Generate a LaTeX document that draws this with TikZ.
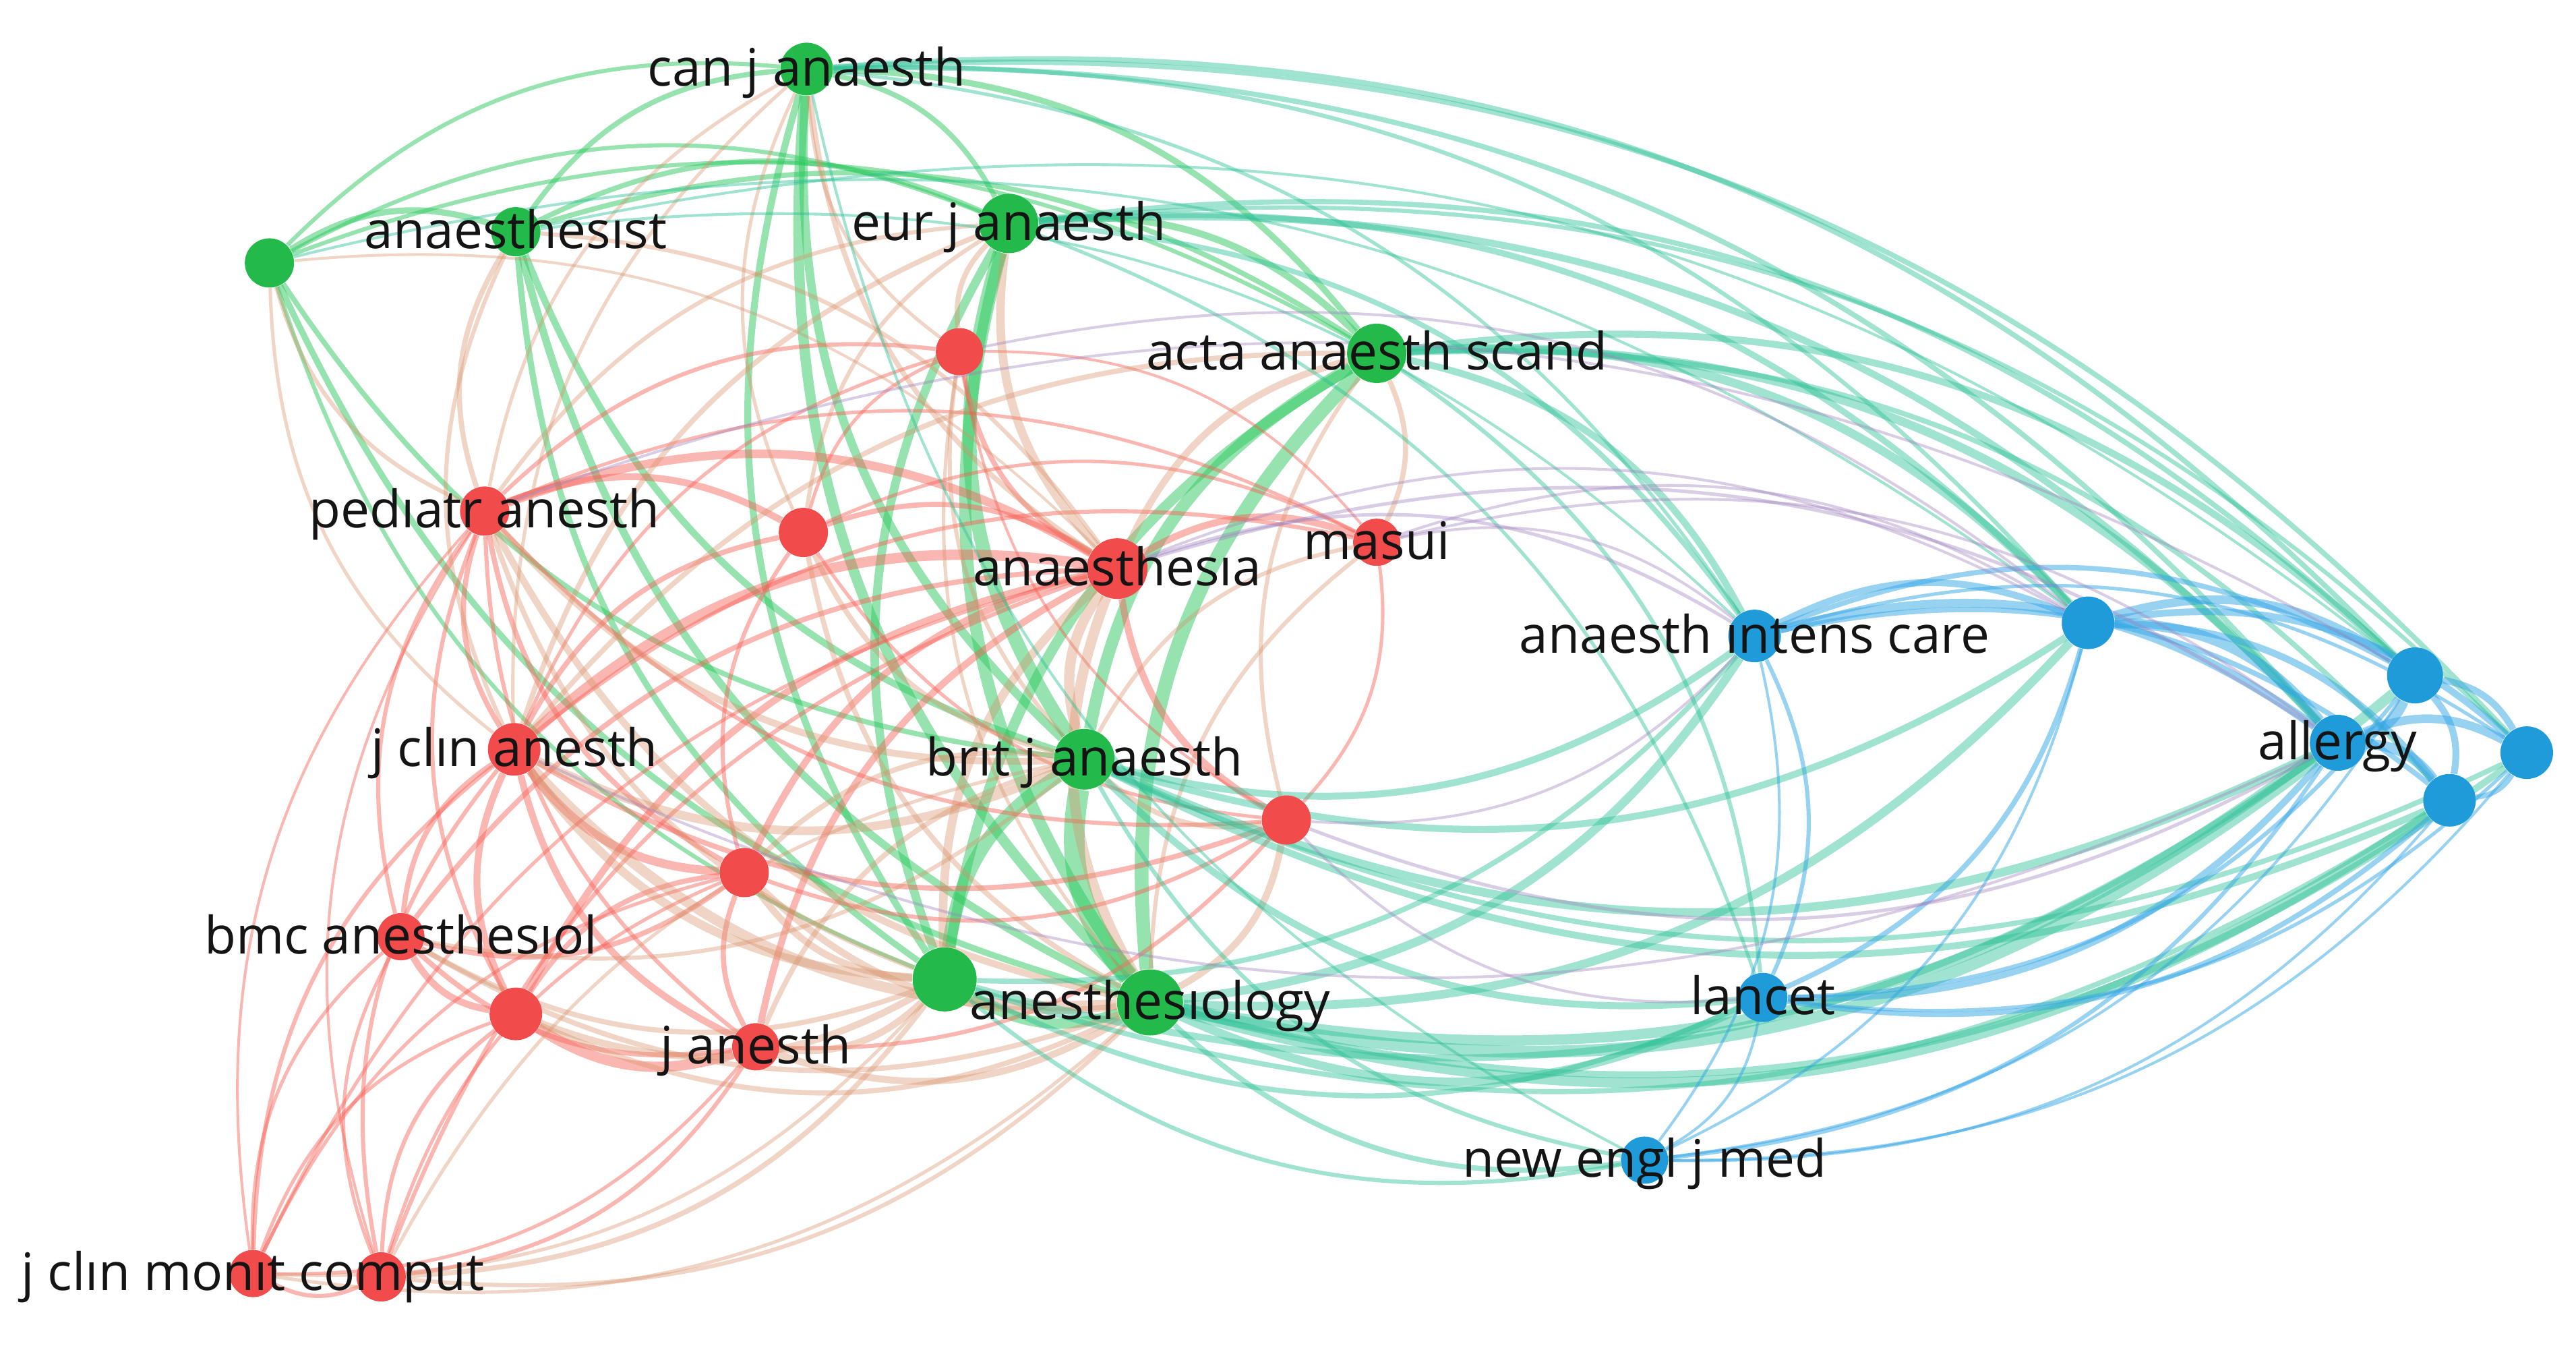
\documentclass[tikz,border=0pt]{standalone}
\usepackage{fontspec}
\setmainfont{Open Sans}
\pgfdeclarelayer{bg}
\pgfsetlayers{bg,main}
\definecolor{ngreen}{RGB}{35,185,75}
\definecolor{nred}{RGB}{242,75,75}
\definecolor{nblue}{RGB}{32,155,218}
\definecolor{egg}{RGB}{45,200,95}
\definecolor{err}{RGB}{245,95,85}
\definecolor{ebb}{RGB}{50,165,228}
\definecolor{erg}{RGB}{215,145,105}
\definecolor{egb}{RGB}{45,192,150}
\definecolor{erb}{RGB}{160,130,190}
\definecolor{labtxt}{RGB}{20,20,20}
\newcommand\ed[4]{%
  \pgfpointanchor{#1}{center}\pgfgetlastxy{\edax}{\eday}%
  \pgfpointanchor{#2}{center}\pgfgetlastxy{\edbx}{\edby}%
  \pgfpointanchor{ctr}{center}\pgfgetlastxy{\edcx}{\edcy}%
  \pgfmathsetmacro\edside{((\eday-\edby)/100)*(((\edax+\edbx)/2-\edcx)/100)+((\edbx-\edax)/100)*(((\eday+\edby)/2-\edcy)/100)}%
  \pgfmathsetmacro\edang{\edside>0 ? 25 : -25}%
  \pgfmathsetmacro\edw{#3*1.45}%
  \draw[#4,line width=\edw pt] (#1) to[bend left=\edang] (#2);%
}
\begin{document}
\begin{tikzpicture}[x=0.0243686cm,y=-0.0243686cm,
  nd/.style={circle,inner sep=0pt,draw=none},
  gn/.style={nd,fill=ngreen},
  rn/.style={nd,fill=nred},
  bn/.style={nd,fill=nblue},
  lab/.style={font=\fontsize{21.8}{26}\selectfont,text=labtxt,inner sep=0pt,text height=0.74em,text depth=0pt,anchor=center,yshift=-0.12cm},
  gg/.style={draw=egg,draw opacity=0.5},
  rr/.style={draw=err,draw opacity=0.45},
  bb/.style={draw=ebb,draw opacity=0.5},
  rg/.style={draw=erg,draw opacity=0.38},
  gb/.style={draw=egb,draw opacity=0.45},
  rb/.style={draw=erb,draw opacity=0.4}]
\useasboundingbox (0,0) rectangle (1568,820.3);
\coordinate (ctr) at (800,420);
% green
\node[gn,minimum size=0.78cm] (cja) at (491,42) {};
\node[gn,minimum size=0.73cm] (g1) at (164,160) {};
\node[gn,minimum size=0.73cm] (ast) at (314,141) {};
\node[gn,minimum size=0.88cm] (eja) at (614,136) {};
\node[gn,minimum size=0.88cm] (aas) at (838,215) {};
\node[gn,minimum size=0.90cm] (bja) at (660,462) {};
\node[gn,minimum size=0.98cm] (ansl) at (700,610) {};
\node[gn,minimum size=0.95cm] (g2) at (575,596) {};
% red
\node[rn,minimum size=0.70cm] (r1) at (584,214) {};
\node[rn,minimum size=0.73cm] (ped) at (295,311) {};
\node[rn,minimum size=0.73cm] (r2) at (489,324) {};
\node[rn,minimum size=0.90cm] (anst) at (680,346) {};
\node[rn,minimum size=0.70cm] (mas) at (838,330) {};
\node[rn,minimum size=0.78cm] (jca) at (313,456) {};
\node[rn,minimum size=0.73cm] (r3) at (783,499) {};
\node[rn,minimum size=0.73cm] (r4) at (453,531) {};
\node[rn,minimum size=0.70cm] (bmc) at (244,570) {};
\node[rn,minimum size=0.78cm] (r5) at (314,617) {};
\node[rn,minimum size=0.70cm] (jan) at (460,637) {};
\node[rn,minimum size=0.70cm] (jcm) at (154,775) {};
\node[rn,minimum size=0.73cm] (r6) at (232,777) {};
% blue
\node[bn,minimum size=0.78cm] (aic) at (1068,387) {};
\node[bn,minimum size=0.78cm] (b1) at (1271,379) {};
\node[bn,minimum size=0.83cm] (b2) at (1470,411) {};
\node[bn,minimum size=0.83cm] (all) at (1423,452) {};
\node[bn,minimum size=0.78cm] (b3) at (1538,458) {};
\node[bn,minimum size=0.78cm] (b4) at (1491,487) {};
\node[bn,minimum size=0.73cm] (lan) at (1073,607) {};
\node[bn,minimum size=0.70cm] (nej) at (1001,706) {};
\begin{pgfonlayer}{bg}
% green-green
\ed{cja}{g1}{1.2}{gg}\ed{cja}{ast}{1.5}{gg}\ed{cja}{eja}{1.5}{gg}\ed{cja}{aas}{1.8}{gg}
\ed{cja}{bja}{2.5}{gg}\ed{cja}{ansl}{3}{gg}\ed{cja}{g2}{2}{gg}
\ed{g1}{ast}{1.8}{gg}\ed{g1}{eja}{1.2}{gg}\ed{g1}{aas}{1.2}{gg}\ed{g1}{bja}{1.5}{gg}
\ed{g1}{ansl}{1.8}{gg}\ed{g1}{g2}{1.2}{gg}
\ed{ast}{eja}{1.5}{gg}\ed{ast}{aas}{1.5}{gg}\ed{ast}{bja}{2}{gg}\ed{ast}{ansl}{2.2}{gg}\ed{ast}{g2}{1.8}{gg}
\ed{eja}{aas}{2}{gg}\ed{eja}{bja}{4}{gg}\ed{eja}{ansl}{3.5}{gg}\ed{eja}{g2}{2.5}{gg}
\ed{aas}{bja}{3.5}{gg}\ed{aas}{ansl}{4}{gg}\ed{aas}{g2}{3}{gg}
\ed{bja}{ansl}{6}{gg}\ed{bja}{g2}{4}{gg}\ed{ansl}{g2}{3}{gg}
% red-red
\ed{anst}{r1}{1.5}{rr}\ed{anst}{ped}{2.5}{rr}\ed{anst}{r2}{1.5}{rr}\ed{anst}{mas}{2}{rr}
\ed{anst}{jca}{3}{rr}\ed{anst}{r3}{2}{rr}\ed{anst}{r4}{2}{rr}\ed{anst}{bmc}{1.5}{rr}
\ed{anst}{r5}{2}{rr}\ed{anst}{jan}{2}{rr}\ed{anst}{jcm}{1}{rr}\ed{anst}{r6}{1.2}{rr}
\ed{jca}{r1}{1}{rr}\ed{jca}{ped}{1.5}{rr}\ed{jca}{r2}{1.5}{rr}\ed{jca}{mas}{1.2}{rr}
\ed{jca}{r3}{1.5}{rr}\ed{jca}{r4}{2.5}{rr}\ed{jca}{bmc}{1.5}{rr}\ed{jca}{r5}{2}{rr}
\ed{jca}{jan}{2}{rr}\ed{jca}{jcm}{1.2}{rr}\ed{jca}{r6}{1.2}{rr}
\ed{ped}{r1}{1.2}{rr}\ed{ped}{r2}{2}{rr}\ed{ped}{mas}{1}{rr}\ed{ped}{r3}{1.2}{rr}
\ed{ped}{r4}{1.5}{rr}\ed{ped}{bmc}{1.2}{rr}\ed{ped}{r5}{1.2}{rr}\ed{ped}{jan}{1.2}{rr}
\ed{ped}{jcm}{0.8}{rr}\ed{ped}{r6}{0.8}{rr}
\ed{r4}{bmc}{1.5}{rr}\ed{r4}{r5}{1.5}{rr}\ed{r4}{jan}{1.5}{rr}\ed{r4}{jcm}{1}{rr}
\ed{r4}{r6}{1}{rr}\ed{r4}{r2}{1.2}{rr}\ed{r4}{r3}{1.2}{rr}
\ed{bmc}{r5}{2}{rr}\ed{bmc}{jan}{1.5}{rr}\ed{bmc}{jcm}{1}{rr}\ed{bmc}{r6}{1}{rr}
\ed{r5}{jan}{3}{rr}\ed{r5}{jcm}{1}{rr}\ed{r5}{r6}{1.2}{rr}
\ed{jan}{jcm}{1}{rr}\ed{jan}{r6}{1.2}{rr}\ed{jan}{r3}{1.2}{rr}\ed{jcm}{r6}{1.2}{rr}
\ed{r2}{r1}{1}{rr}\ed{r2}{r3}{1}{rr}\ed{r2}{mas}{1}{rr}\ed{r3}{mas}{1}{rr}
\ed{r1}{mas}{0.8}{rr}\ed{r1}{r3}{0.8}{rr}
% red-green
\ed{anst}{cja}{1.5}{rg}\ed{anst}{g1}{0.8}{rg}\ed{anst}{ast}{1.2}{rg}\ed{anst}{eja}{2.5}{rg}
\ed{anst}{aas}{2}{rg}\ed{anst}{bja}{3}{rg}\ed{anst}{ansl}{3}{rg}\ed{anst}{g2}{2.5}{rg}
\ed{jca}{cja}{1}{rg}\ed{jca}{ast}{1.2}{rg}\ed{jca}{eja}{1.5}{rg}\ed{jca}{aas}{1.5}{rg}
\ed{jca}{bja}{2.5}{rg}\ed{jca}{ansl}{3}{rg}\ed{jca}{g2}{2.5}{rg}\ed{jca}{g1}{1}{rg}
\ed{ped}{cja}{1}{rg}\ed{ped}{ast}{1.5}{rg}\ed{ped}{eja}{1.2}{rg}\ed{ped}{bja}{2}{rg}
\ed{ped}{ansl}{2}{rg}\ed{ped}{g1}{1.2}{rg}\ed{ped}{g2}{1.5}{rg}
\ed{r1}{eja}{1.5}{rg}\ed{r1}{bja}{1.2}{rg}\ed{r1}{cja}{1}{rg}\ed{r1}{ansl}{1}{rg}
\ed{r2}{bja}{1.5}{rg}\ed{r2}{ansl}{1.5}{rg}\ed{r2}{eja}{1.2}{rg}\ed{r2}{cja}{1}{rg}
\ed{r3}{bja}{1.5}{rg}\ed{r3}{ansl}{2}{rg}\ed{r3}{aas}{1.2}{rg}
\ed{r4}{bja}{1.5}{rg}\ed{r4}{ansl}{2}{rg}\ed{r4}{g2}{2}{rg}
\ed{bmc}{ansl}{1.5}{rg}\ed{bmc}{g2}{1.5}{rg}\ed{bmc}{bja}{1.2}{rg}
\ed{r5}{ansl}{1.5}{rg}\ed{r5}{g2}{2}{rg}
\ed{jan}{ansl}{2}{rg}\ed{jan}{g2}{2}{rg}\ed{jan}{bja}{1.5}{rg}
\ed{jcm}{ansl}{1}{rg}\ed{jcm}{g2}{1}{rg}
\ed{r6}{ansl}{1.2}{rg}\ed{r6}{g2}{1.5}{rg}\ed{r6}{bja}{1}{rg}
\ed{mas}{aas}{1.5}{rg}\ed{mas}{bja}{1.2}{rg}\ed{mas}{ansl}{1.2}{rg}
% green-blue
\ed{aic}{cja}{1}{gb}\ed{aic}{eja}{1.5}{gb}\ed{aic}{aas}{2}{gb}\ed{aic}{bja}{2}{gb}
\ed{aic}{ansl}{2.5}{gb}\ed{aic}{g2}{1.5}{gb}\ed{aic}{ast}{0.8}{gb}
\ed{all}{cja}{1.5}{gb}\ed{all}{eja}{2}{gb}\ed{all}{aas}{2.5}{gb}\ed{all}{bja}{2.5}{gb}
\ed{all}{ansl}{3.5}{gb}\ed{all}{g2}{2}{gb}
\ed{b1}{cja}{1.2}{gb}\ed{b1}{eja}{1.8}{gb}\ed{b1}{aas}{2.5}{gb}\ed{b1}{bja}{2}{gb}
\ed{b1}{ansl}{2.5}{gb}\ed{b1}{g1}{0.8}{gb}
\ed{b2}{cja}{1.5}{gb}\ed{b2}{eja}{1.5}{gb}\ed{b2}{aas}{2}{gb}\ed{b2}{ansl}{3}{gb}\ed{b2}{ast}{0.8}{gb}
\ed{b3}{cja}{1.5}{gb}\ed{b3}{eja}{1.2}{gb}\ed{b3}{ansl}{2}{gb}\ed{b3}{bja}{1.5}{gb}
\ed{b4}{ansl}{3}{gb}\ed{b4}{bja}{2}{gb}\ed{b4}{g2}{1.5}{gb}\ed{b4}{aas}{1.5}{gb}
\ed{lan}{ansl}{2.5}{gb}\ed{lan}{bja}{2}{gb}\ed{lan}{g2}{1.5}{gb}\ed{lan}{aas}{1.2}{gb}\ed{lan}{eja}{1}{gb}
\ed{nej}{ansl}{1.5}{gb}\ed{nej}{bja}{1.2}{gb}\ed{nej}{g2}{1.2}{gb}\ed{nej}{cja}{0.8}{gb}
% blue-blue
\ed{all}{b2}{3}{bb}\ed{all}{b3}{2.5}{bb}\ed{all}{b4}{3}{bb}\ed{all}{b1}{3}{bb}
\ed{all}{aic}{2.5}{bb}\ed{all}{lan}{2}{bb}\ed{all}{nej}{1.2}{bb}
\ed{b1}{b2}{2.5}{bb}\ed{b1}{b3}{2}{bb}\ed{b1}{b4}{2}{bb}\ed{b1}{aic}{2}{bb}
\ed{b1}{lan}{1.5}{bb}\ed{b1}{nej}{0.8}{bb}
\ed{b2}{b3}{2}{bb}\ed{b2}{b4}{2}{bb}\ed{b2}{aic}{1.5}{bb}\ed{b2}{lan}{1.2}{bb}\ed{b2}{nej}{0.8}{bb}
\ed{b3}{b4}{1.5}{bb}\ed{b3}{aic}{1}{bb}\ed{b3}{lan}{1}{bb}\ed{b3}{nej}{0.8}{bb}
\ed{b4}{aic}{1.5}{bb}\ed{b4}{lan}{1.5}{bb}\ed{b4}{nej}{0.8}{bb}
\ed{aic}{lan}{1.2}{bb}\ed{aic}{nej}{0.8}{bb}\ed{lan}{nej}{0.8}{bb}
% red-blue
\ed{anst}{aic}{1}{rb}\ed{anst}{all}{1}{rb}\ed{anst}{b1}{0.8}{rb}
\ed{mas}{aic}{0.8}{rb}\ed{mas}{b1}{0.8}{rb}\ed{mas}{all}{0.8}{rb}
\ed{r3}{all}{1}{rb}\ed{r3}{lan}{0.8}{rb}\ed{r3}{aic}{0.8}{rb}
\ed{jca}{all}{0.8}{rb}\ed{ped}{b2}{0.8}{rb}\ed{r1}{b1}{0.8}{rb}
\end{pgfonlayer}
% labels
\node[lab] (lcja) at (cja) {can j anaesth};
\node[lab] (last) at (ast) {anaesthesıst};
\node[lab] (leja) at (eja) {eur j anaesth};
\node[lab] (laas) at (aas) {acta anaesth scand};
\node[lab] (lbja) at (bja) {brıt j anaesth};
\node[lab] (lansl) at (ansl) {anesthesıology};
\node[lab] (lped) at (ped) {pedıatr anesth};
\node[lab] (lanst) at (anst) {anaesthesıa};
\node[lab] (lmas) at (mas) {masui};
\node[lab] (ljca) at (jca) {j clın anesth};
\node[lab] (lbmc) at (bmc) {bmc anesthesıol};
\node[lab] (ljan) at (jan) {j anesth};
\node[lab] (ljcm) at (jcm) {j clın monıt comput};
\node[lab] (laic) at (aic) {anaesth ıntens care};
\node[lab] (lall) at (all) {allergy};
\node[lab] (llan) at (lan) {lancet};
\node[lab] (lnej) at (nej) {new engl j med};
\end{tikzpicture}
\end{document}
